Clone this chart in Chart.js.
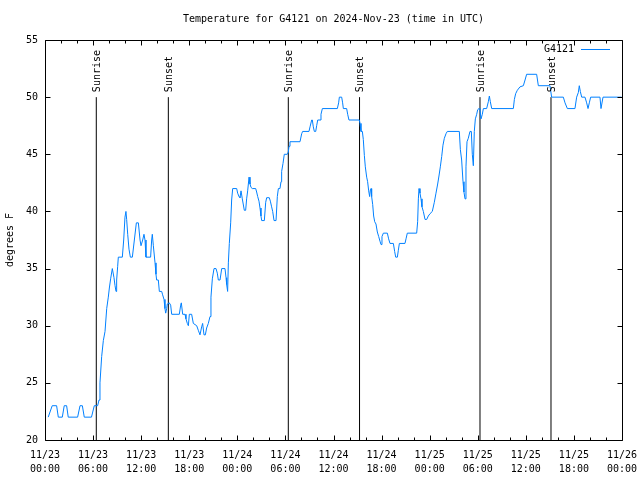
<!DOCTYPE html>
<html>
<head>
<meta charset="utf-8">
<script src="https://cdn.jsdelivr.net/npm/chart.js@4"></script>
<style>
html,body{margin:0;padding:0;background:#fff;}
#wrap{width:640px;height:480px;}
</style>
</head>
<body>
<div id="wrap"><canvas id="c" width="640" height="480"></canvas></div>
<script>
// ---- data (hours since 2024-11-23 00:00 UTC, temperature in °F) ----
const hours = [
0.4,0.9,1.45,1.66,2.16,2.4,2.7,2.9,4.07,4.37,4.66,4.9,5.8,6.15,6.57,6.74,6.86,7.07,7.28,7.49,
7.7,7.9,8.03,8.19,8.4,8.61,8.74,8.86,8.94,9.07,9.15,9.65,9.82,9.98,10.1,10.19,10.32,10.48,10.65,10.9,
11.15,11.4,11.65,11.86,11.98,12.1,12.19,12.35,12.48,12.6,13.18,13.31,13.39,13.52,13.73,13.85,13.93,14.14,14.27,14.56,
14.68,14.85,14.97,15.06,15.18,15.26,15.51,15.68,15.81,16.76,16.93,17.01,17.18,17.47,17.59,17.76,17.89,18.01,18.3,18.51,
18.93,19.13,19.34,19.55,19.67,19.84,20.01,20.17,20.38,20.59,20.71,20.88,21.09,21.34,21.5,21.63,21.84,22.05,22.46,22.59,
22.67,22.79,22.88,23.0,23.17,23.29,23.42,23.92,24.04,24.21,24.33,24.46,24.62,24.87,25.04,25.16,25.29,25.46,25.58,25.71,
25.87,26.29,26.41,26.54,26.7,26.83,26.95,27.04,27.37,27.54,27.66,27.99,28.12,28.28,28.41,28.58,28.83,28.99,29.12,29.32,
29.45,29.53,29.7,29.86,30.24,30.36,30.45,30.57,31.82,32.03,32.15,32.94,33.07,33.28,33.36,33.48,33.61,33.78,33.9,34.03,
34.32,34.44,34.61,36.48,36.64,36.73,37.02,37.14,37.23,37.64,37.77,37.93,39.22,39.31,39.43,39.6,39.72,39.85,39.97,40.14,
40.26,40.39,40.51,40.6,40.68,40.76,40.89,41.01,41.14,41.3,41.47,41.64,41.8,41.93,42.05,42.22,42.72,42.88,43.05,43.47,
43.63,43.76,43.97,44.09,44.22,44.92,45.05,45.21,46.38,46.5,46.59,46.67,46.79,46.92,47.04,47.21,47.42,47.63,47.83,48.04,
48.33,48.58,48.79,49.0,49.16,49.33,49.5,49.66,49.83,50.04,50.2,51.7,51.83,51.99,52.16,52.28,52.41,52.53,52.66,52.82,
53.03,53.2,53.32,53.45,53.57,53.7,53.87,53.99,54.16,54.28,54.41,54.57,54.7,55.11,55.32,55.45,55.57,55.74,58.44,58.57,
58.73,58.94,59.27,59.69,59.9,60.1,61.35,61.56,63.01,63.22,64.68,64.89,65.18,66.13,66.34,66.55,66.67,66.8,66.97,67.38,
67.59,67.76,67.92,68.09,69.25,69.38,69.5,69.63,71.95
];
const tempsF = [
22,23,23,22,22,23,23,22,22,23,23,22,22,23,23,23.5,25,27.3,28.7,29.5,
31.5,32.5,33.3,34.1,35,34.2,33.5,33,34,35.2,36,36,37.5,39.5,40,39.3,38,36.7,36,36,
37.5,39,39,37.5,37,37,37.5,38,37.5,36,36,37.5,38,37,35.5,34.5,34,34,33,33,
32.7,32.3,31.5,31.1,31.5,31.9,32,31.8,31,31,31.8,32,31,31,30.6,30.2,30,31,31,30.2,
30,29.6,29.2,29.9,30.2,29.2,29.2,29.8,30.2,30.8,32.5,34.1,35,35,34.6,34,34,35,35,34.2,
33.6,33,35.5,37.2,39,41,42,42,41.6,41.3,41.2,41.8,41.1,40.1,40.1,41.1,41.8,43,42.4,42.1,
42,42,41.7,41.3,40.9,40.3,39.6,39.2,39.2,40.8,41.2,41.2,40.9,40.4,40,39.2,39.2,41.3,42,42,
42.6,43.5,44.2,45,45,45.2,45.7,46.1,46.1,46.8,47,47,47.4,48,48,47.4,47,47,47.5,48,
48,48.5,49,49,49.5,50,50,49.5,49,49,48.5,48,48,47.7,47,47,46.3,44.9,43.9,43,
42.6,41.8,41.3,41.9,42,41.3,40.6,39.6,39.1,38.9,38.2,37.8,37.4,37.1,37.8,38.1,38.1,37.6,37.2,37.2,
36.5,36,36,36.6,37.2,37.2,37.6,38.1,38.1,39.1,41.1,42,41.6,41.1,40.4,40,39.3,39.3,39.6,39.8,
40,40.8,41.6,42.4,43.1,43.9,44.8,45.8,46.4,46.8,47,47,45.4,44.5,42.6,41.7,41.1,43.9,46.1,46.4,
47,47,45,44,47,48.1,48.5,48.9,49,48.9,48.1,48.5,49,49,49.6,50.1,49.6,49,49,49.8,
50.3,50.6,50.9,51,51.5,52,52,51,51,50,50,49.5,49,49,50,50.4,51,50.5,50,50,
49.5,49,49.5,50,50,49,49,50,50
];
const sunHours  = [6.40, 15.39, 30.36, 39.25, 54.28, 63.14];
const sunLabels = ['Sunrise','Sunset','Sunrise','Sunset','Sunrise','Sunset'];
const sunLineTop = 50;
const xTickHours = [0,6,12,18,24,30,36,42,48,54,60,66,72];
const xTickDates = ['11/23','11/23','11/23','11/23','11/24','11/24','11/24','11/24','11/25','11/25','11/25','11/25','11/26'];
const xTickTimes = ['00:00','06:00','12:00','18:00','00:00','06:00','12:00','18:00','00:00','06:00','12:00','18:00','00:00'];
const yTicks = [20,25,30,35,40,45,50,55];
const seriesName = 'G4121';
const titleText = 'Temperature for G4121 on 2024-Nov-23 (time in UTC)';
const yTitle = 'degrees F';

const FONT = '"DejaVu Sans Mono", "Liberation Mono", monospace';
const LINE_COLOR = '#0080ff';

const datasets = [{
  label: seriesName,
  data: hours.map((h,i)=>({x:h,y:tempsF[i]})),
  borderColor: LINE_COLOR,
  borderWidth: 1,
  pointRadius: 0,
  showLine: true,
  tension: 0,
  order: 0
}];
sunHours.forEach((h,i)=>{
  datasets.push({
    label: sunLabels[i],
    data: [{x:h,y:20},{x:h,y:sunLineTop}],
    borderColor: '#000',
    borderWidth: 1,
    pointRadius: 0,
    showLine: true,
    order: 1
  });
});

const gnuplotDecor = {
  id: 'gnuplotDecor',
  afterDraw(chart){
    const ctx = chart.ctx;
    const xs = chart.scales.x, ys = chart.scales.y;
    const a = chart.chartArea;
    const L = Math.round(a.left)+0.5, R = Math.round(a.right)+0.5;
    const T = Math.round(a.top)+0.5, B = Math.round(a.bottom)+0.5;
    ctx.save();
    ctx.strokeStyle = '#000';
    ctx.lineWidth = 1;
    ctx.beginPath();
    ctx.rect(L, T, R-L, B-T);
    yTicks.forEach(v=>{
      const y = Math.round(ys.getPixelForValue(v))+0.5;
      ctx.moveTo(L, y); ctx.lineTo(L+5, y);
      ctx.moveTo(R, y); ctx.lineTo(R-5, y);
    });
    for (let h=0; h<=72; h+=2){
      const x = Math.round(xs.getPixelForValue(h))+0.5;
      const len = (h%6===0) ? 5 : 3;
      ctx.moveTo(x, B); ctx.lineTo(x, B-len);
      ctx.moveTo(x, T); ctx.lineTo(x, T+len);
    }
    ctx.stroke();

    ctx.fillStyle = '#000';
    ctx.font = '10px ' + FONT;
    ctx.textAlign = 'center';
    ctx.textBaseline = 'middle';
    ctx.fillText(titleText, (a.left+a.right)/2, 19);
    ctx.textAlign = 'right';
    ctx.fillText(seriesName, 574, 49);
    ctx.strokeStyle = LINE_COLOR;
    ctx.beginPath();
    ctx.moveTo(581, 49.5); ctx.lineTo(610, 49.5);
    ctx.stroke();
    const yTop = ys.getPixelForValue(sunLineTop);
    sunHours.forEach((h,i)=>{
      const x = xs.getPixelForValue(h);
      ctx.save();
      ctx.translate(x+1, yTop-5);
      ctx.rotate(-Math.PI/2);
      ctx.textAlign = 'left';
      ctx.textBaseline = 'middle';
      ctx.fillStyle = '#000';
      ctx.fillText(sunLabels[i], 0, 0);
      ctx.restore();
    });
    ctx.restore();
  }
};

new Chart(document.getElementById('c'), {
  type: 'scatter',
  data: { datasets },
  options: {
    responsive: false,
    animation: false,
    devicePixelRatio: 1,
    layout: { padding: { top: 40, right: 18, left: 0, bottom: 0 } },
    plugins: {
      legend: { display: false },
      title: { display: false },
      tooltip: { enabled: false }
    },
    scales: {
      x: {
        type: 'linear',
        min: 0, max: 72,
        grid: { display: false, drawTicks: false },
        border: { display: false },
        afterBuildTicks: s => { s.ticks = xTickHours.map(v=>({value:v})); },
        afterFit: s => { s.height = 40; s.paddingLeft = 0; s.paddingRight = 0; },
        ticks: {
          autoSkip: false, maxRotation: 0, minRotation: 0,
          color: '#000', padding: 8,
          font: { family: FONT, size: 10, lineHeight: 1.45 },
          callback: (v) => { const i = xTickHours.indexOf(v); return i<0 ? '' : [xTickDates[i], xTickTimes[i]]; }
        }
      },
      y: {
        min: 20, max: 55,
        grid: { display: false, drawTicks: false },
        border: { display: false },
        afterBuildTicks: s => { s.ticks = yTicks.map(v=>({value:v})); },
        afterFit: s => { s.width = 45; s.paddingTop = 0; s.paddingBottom = 0; },
        ticks: { color: '#000', padding: 7, font: { family: FONT, size: 10 } },
        title: { display: true, text: yTitle, color: '#000', font: { family: FONT, size: 10 }, padding: { top: 4, bottom: 0 } }
      }
    }
  },
  plugins: [gnuplotDecor]
});
</script>
</body>
</html>
